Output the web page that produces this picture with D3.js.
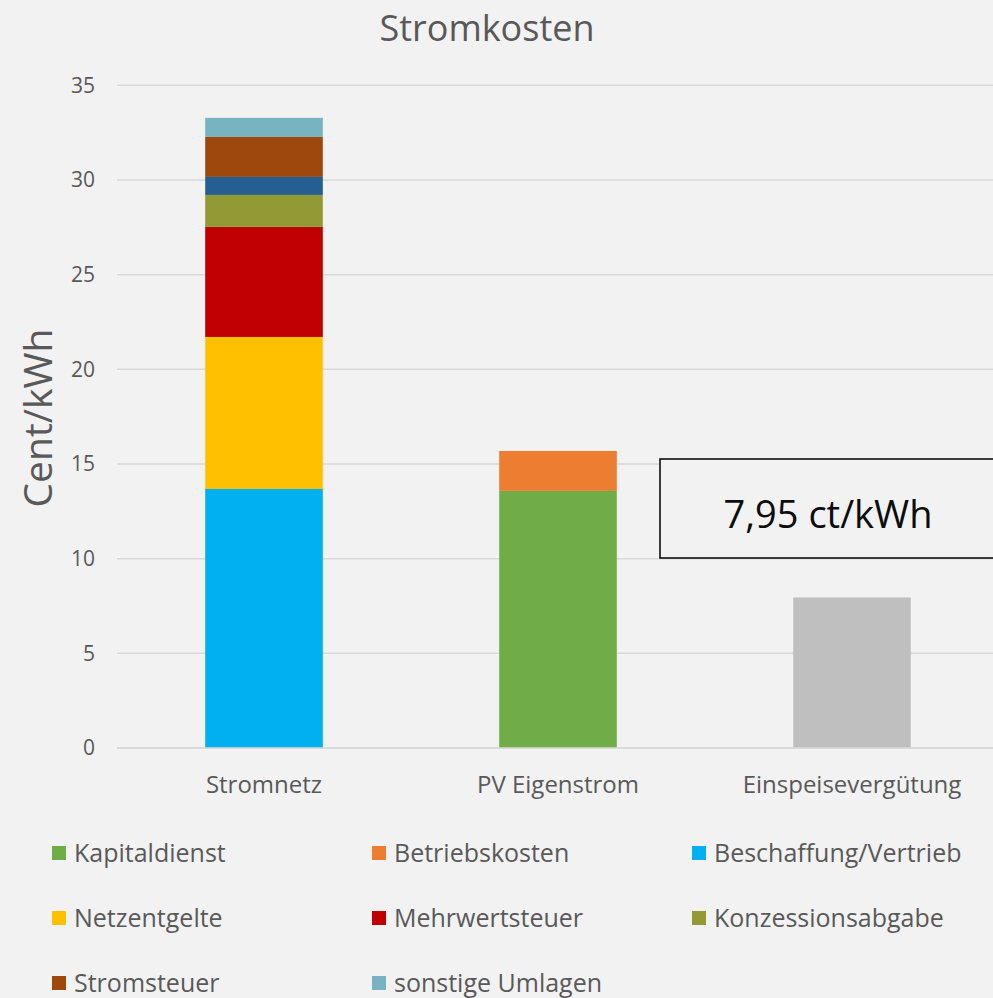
<!DOCTYPE html>
<html>
<head>
<meta charset="utf-8">
<script src="https://cdn.jsdelivr.net/npm/d3@7"></script>
<style>
  html, body { margin: 0; padding: 0; background: #f2f2f2; }
  svg { display: block; font-family: "Open Sans", "Noto Sans", sans-serif; }
</style>
</head>
<body>
<svg id="chart" width="993" height="998"></svg>
<script>
// Categories along the x axis
const categories = ["Stromnetz", "PV Eigenstrom", "Einspeisevergütung"];

// Cost components in cent/kWh, one value per category (stack order bottom → top)
const kapitaldienst      = [0, 13.58, 0];
const betriebskosten     = [0, 2.11, 0];
const beschaffung        = [13.68, 0, 0];
const netzentgelte       = [8.03, 0, 0];
const mehrwertsteuer     = [5.81, 0, 0];
const konzessionsabgabe  = [1.69, 0, 0];
const eegUmlage          = [0.95, 0, 0];
const stromsteuer        = [2.11, 0, 0];
const sonstigeUmlagen    = [1.01, 0, 0];
const einspeiseverguetung = [0, 0, 7.95];

const yTicks = [0, 5, 10, 15, 20, 25, 30, 35];

const series = [
  { key: "Kapitaldienst",        values: kapitaldienst,       color: "#70ad47", legend: true },
  { key: "Betriebskosten",       values: betriebskosten,      color: "#ed7d31", legend: true },
  { key: "Beschaffung/Vertrieb", values: beschaffung,         color: "#00b0f0", legend: true },
  { key: "Netzentgelte",         values: netzentgelte,        color: "#ffc000", legend: true },
  { key: "Mehrwertsteuer",       values: mehrwertsteuer,      color: "#c00000", legend: true },
  { key: "Konzessionsabgabe",    values: konzessionsabgabe,   color: "#939a33", legend: true },
  { key: "EEG-Umlage",           values: eegUmlage,           color: "#255e91", legend: false },
  { key: "Stromsteuer",          values: stromsteuer,         color: "#9e480e", legend: true },
  { key: "sonstige Umlagen",     values: sonstigeUmlagen,     color: "#78b3c1", legend: true },
  { key: "Einspeisevergütung",   values: einspeiseverguetung, color: "#bfbfbf", legend: false }
];

const table = categories.map((c, i) => {
  const row = { category: c };
  series.forEach(s => row[s.key] = s.values[i]);
  return row;
});

const svg = d3.select("#chart");

const x = d3.scaleBand().domain(categories).range([117, 999]).paddingInner(0.6).paddingOuter(0.3);
const y = d3.scaleLinear().domain([0, 35]).range([748, 85.3]);

// Gridlines
svg.append("g")
  .selectAll("line")
  .data(yTicks)
  .join("line")
  .attr("x1", 117).attr("x2", 999)
  .attr("y1", d => y(d)).attr("y2", d => y(d))
  .attr("stroke", "#d9d9d9").attr("stroke-width", 1.5);

// Y axis labels
const yAxis = d3.axisLeft(y).tickValues(yTicks).tickSize(0).tickPadding(0);
svg.append("g")
  .attr("transform", "translate(95,0)")
  .call(yAxis)
  .call(g => g.select(".domain").remove())
  .call(g => g.selectAll("text")
    .attr("fill", "#595959")
    .attr("font-size", 21)
    .attr("font-family", "Open Sans, sans-serif"));

// Stacked bars
const stack = d3.stack().keys(series.map(s => s.key));
const layers = stack(table);
const colorOf = new Map(series.map(s => [s.key, s.color]));

svg.append("g")
  .selectAll("g")
  .data(layers)
  .join("g")
  .attr("fill", d => colorOf.get(d.key))
  .selectAll("rect")
  .data(d => d.filter(p => p[1] - p[0] > 0))
  .join("rect")
  .attr("x", d => x(d.data.category))
  .attr("width", x.bandwidth())
  .attr("y", d => y(d[1]))
  .attr("height", d => y(d[0]) - y(d[1]));

// X axis baseline
svg.append("line")
  .attr("x1", 117).attr("x2", 999)
  .attr("y1", y(0)).attr("y2", y(0))
  .attr("stroke", "#d9d9d9").attr("stroke-width", 1.5);

// X axis labels
const xAxis = d3.axisBottom(x).tickSize(0).tickPadding(0);
svg.append("g")
  .attr("transform", `translate(0,${y(0) + 28})`)
  .call(xAxis)
  .call(g => g.select(".domain").remove())
  .call(g => g.selectAll("text")
    .attr("fill", "#595959")
    .attr("font-size", 24)
    .attr("dy", "0.71em")
    .attr("font-family", "Open Sans, sans-serif"));

// Title
svg.append("text")
  .attr("x", 487).attr("y", 41)
  .attr("text-anchor", "middle")
  .attr("font-size", 36)
  .attr("fill", "#595959")
  .text("Stromkosten");

// Y axis title
svg.append("text")
  .attr("transform", `translate(52,418) rotate(-90)`)
  .attr("text-anchor", "middle")
  .attr("font-size", 39)
  .attr("fill", "#595959")
  .text("Cent/kWh");

// Value callout for the feed-in tariff
const feedIn = einspeiseverguetung[2];
svg.append("rect")
  .attr("x", 660).attr("y", 459)
  .attr("width", 360).attr("height", 99)
  .attr("fill", "#f2f2f2")
  .attr("stroke", "#000").attr("stroke-width", 1.5);
svg.append("text")
  .attr("x", 828).attr("y", 528)
  .attr("text-anchor", "middle")
  .attr("font-size", 38)
  .attr("fill", "#0d0d0d")
  .text(d3.format(".2f")(feedIn).replace(".", ",") + " ct/kWh");

// Legend
const legendItems = series.filter(s => s.legend);
const colX = [52, 372, 692];
const rowY = [853, 918, 983];
const lg = svg.append("g")
  .selectAll("g")
  .data(legendItems)
  .join("g")
  .attr("transform", (d, i) => `translate(${colX[i % 3]},${rowY[Math.floor(i / 3)]})`);
lg.append("rect")
  .attr("x", 0).attr("y", -7)
  .attr("width", 14).attr("height", 14)
  .attr("fill", d => d.color);
lg.append("text")
  .attr("x", 22).attr("y", 0)
  .attr("dy", "0.35em")
  .attr("font-size", 25)
  .attr("fill", "#595959")
  .text(d => d.key);
</script>
</body>
</html>
